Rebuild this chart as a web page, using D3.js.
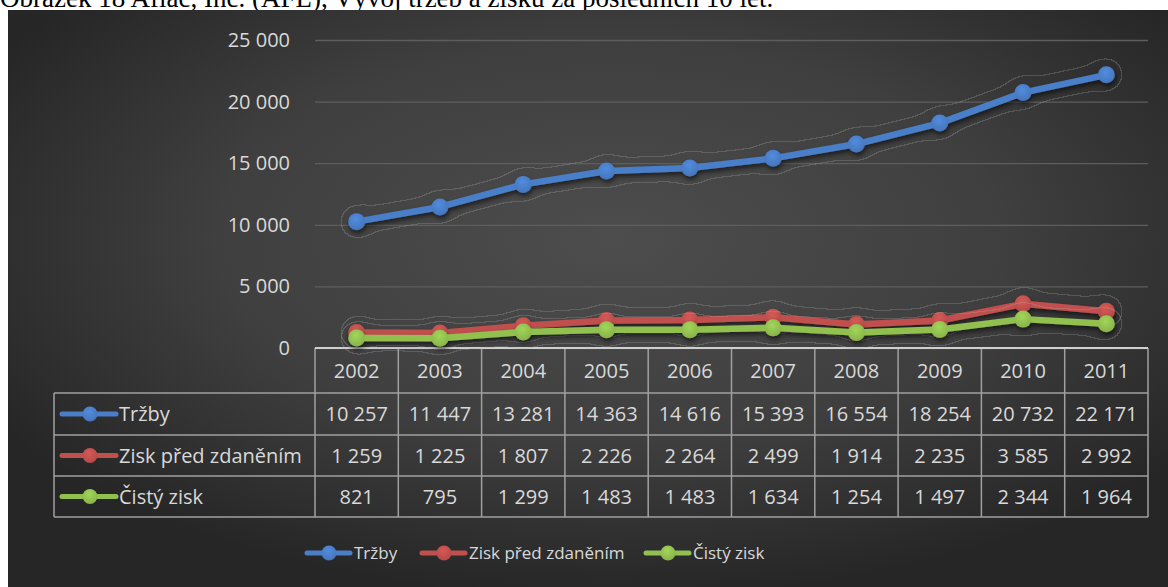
<!DOCTYPE html>
<html>
<head>
<meta charset="utf-8">
<script src="https://cdn.jsdelivr.net/npm/d3@7"></script>
<style>
  body { margin: 0; background: #fff; }
  svg { display: block; }
</style>
</head>
<body>
<div id="chart-area"></div>
<script>
// data
const years = ['2002', '2003', '2004', '2005', '2006', '2007', '2008', '2009', '2010', '2011'];
const trzby = [10257, 11447, 13281, 14363, 14616, 15393, 16554, 18254, 20732, 22171];
const ziskPredZdanenim = [1259, 1225, 1807, 2226, 2264, 2499, 1914, 2235, 3585, 2992];
const cistyZisk = [821, 795, 1299, 1483, 1483, 1634, 1254, 1497, 2344, 1964];
const yTicks = [0, 5000, 10000, 15000, 20000, 25000];
const seriesNames = ['Tržby', 'Zisk před zdaněním', 'Čistý zisk'];
const seriesColors = ['#4a7ec8', '#c0504d', '#92c050'];
const caption = 'Obrázek 18 Aflac, Inc. (AFL), Vývoj tržeb a zisku za posledních 10 let.';

const series = [trzby, ziskPredZdanenim, cistyZisk].map((values, i) => ({
    name: seriesNames[i],
    color: seriesColors[i],
    values: values
}));

const WIDTH = 1168, HEIGHT = 587;
const PLOT = { left: 315, right: 1148, top: 40, bottom: 348 };
const TABLE_LEFT = 54;
const ROWS = [348, 393, 435, 476, 517]; // table row edges
const FONT = '"Open Sans", "Noto Sans", sans-serif';
const TEXT = '#d9d9d9';

const locale = d3.formatLocale({ decimal: ',', thousands: ' ', grouping: [3], currency: ['', ''] });
const fmt = locale.format(',d');

const svg = d3.select('#chart-area').append('svg')
    .attr('width', WIDTH).attr('height', HEIGHT);

const defs = svg.append('defs');

const bg = defs.append('radialGradient').attr('id', 'bg')
    .attr('cx', '52%').attr('cy', '40%').attr('r', '62%');
bg.append('stop').attr('offset', '0%').attr('stop-color', '#4d4d4d');
bg.append('stop').attr('offset', '55%').attr('stop-color', '#3f3f3f');
bg.append('stop').attr('offset', '100%').attr('stop-color', '#262626');

// halo ring + drop shadow around each series
const halo = defs.append('filter').attr('id', 'halo')
    .attr('x', '-10%').attr('y', '-40%').attr('width', '120%').attr('height', '180%');
halo.append('feGaussianBlur').attr('in', 'SourceAlpha').attr('stdDeviation', 9).attr('result', 'blur');
halo.append('feComponentTransfer').attr('in', 'blur').attr('result', 'blob')
    .append('feFuncA').attr('type', 'discrete').attr('tableValues', '0 0 1 1 1 1 1 1 1 1 1 1 1 1 1 1 1 1 1 1');
halo.append('feMorphology').attr('in', 'blob').attr('operator', 'erode').attr('radius', 0.6).attr('result', 'inner');
halo.append('feComposite').attr('in', 'blob').attr('in2', 'inner').attr('operator', 'out').attr('result', 'ring');
halo.append('feFlood').attr('flood-color', '#b0b0b0').attr('flood-opacity', 0.25).attr('result', 'ringColor');
halo.append('feComposite').attr('in', 'ringColor').attr('in2', 'ring').attr('operator', 'in').attr('result', 'ringFinal');
halo.append('feGaussianBlur').attr('in', 'SourceAlpha').attr('stdDeviation', 2.5).attr('result', 'sblur');
halo.append('feOffset').attr('in', 'sblur').attr('dx', 1).attr('dy', 3).attr('result', 'soff');
halo.append('feComponentTransfer').attr('in', 'soff').attr('result', 'shadow')
    .append('feFuncA').attr('type', 'linear').attr('slope', 0.6);
const merge = halo.append('feMerge');
merge.append('feMergeNode').attr('in', 'ringFinal');
merge.append('feMergeNode').attr('in', 'shadow');
merge.append('feMergeNode').attr('in', 'SourceGraphic');

// marker gradients
series.forEach((s, i) => {
    const g = defs.append('radialGradient').attr('id', 'mk' + i)
        .attr('cx', '45%').attr('cy', '35%').attr('r', '65%');
    g.append('stop').attr('offset', '0%').attr('stop-color', d3.color(s.color).brighter(0.3));
    g.append('stop').attr('offset', '100%').attr('stop-color', d3.color(s.color).darker(0.2));
});

// caption (partly cut off at the top of the page, as in the source)
svg.append('text')
    .attr('x', 0).attr('y', 7)
    .attr('font-family', '"Liberation Serif", "Times New Roman", serif')
    .attr('font-size', '27px')
    .attr('fill', '#000')
    .text(caption);

svg.append('rect')
    .attr('x', 8).attr('y', 10).attr('width', WIDTH - 8).attr('height', HEIGHT - 10)
    .attr('fill', 'url(#bg)');

const xScale = d3.scaleBand().domain(years).range([PLOT.left, PLOT.right]);
const yScale = d3.scaleLinear().domain([0, 25000]).range([PLOT.bottom, PLOT.top]);
const xMid = d => xScale(d) + xScale.bandwidth() / 2;

// y axis with gridlines
const yAxis = svg.append('g')
    .attr('transform', `translate(${PLOT.left},0)`)
    .call(d3.axisLeft(yScale).tickValues(yTicks).tickFormat(fmt)
        .tickSize(-(PLOT.right - PLOT.left)).tickPadding(25));
yAxis.select('.domain').remove();
yAxis.selectAll('.tick line').attr('stroke', '#5e5e5e').attr('stroke-width', 1.3);
yAxis.selectAll('.tick text')
    .attr('fill', TEXT).attr('font-family', FONT).attr('font-size', '20px');

// data table
const table = svg.append('g');
const gridColor = '#a0a0a0';
ROWS.slice(1).forEach(y => {
    table.append('line')
        .attr('x1', TABLE_LEFT).attr('x2', PLOT.right).attr('y1', y).attr('y2', y)
        .attr('stroke', gridColor).attr('stroke-width', 1.5);
});
table.append('line')
    .attr('x1', TABLE_LEFT).attr('x2', TABLE_LEFT).attr('y1', ROWS[1]).attr('y2', ROWS[4])
    .attr('stroke', gridColor).attr('stroke-width', 1.5);
[...years.map(d => xScale(d)), PLOT.right].forEach(x => {
    table.append('line')
        .attr('x1', x).attr('x2', x).attr('y1', ROWS[0]).attr('y2', ROWS[4])
        .attr('stroke', gridColor).attr('stroke-width', 1.5);
});
table.append('line')
    .attr('x1', PLOT.left).attr('x2', PLOT.right).attr('y1', ROWS[0]).attr('y2', ROWS[0])
    .attr('stroke', '#cfcfcf').attr('stroke-width', 2);

const rowMid = i => (ROWS[i] + ROWS[i + 1]) / 2;

table.selectAll('text.year').data(years).enter().append('text')
    .attr('class', 'year')
    .attr('x', xMid).attr('y', rowMid(0)).attr('dy', '0.35em')
    .attr('text-anchor', 'middle')
    .attr('fill', TEXT).attr('font-family', FONT).attr('font-size', '20px')
    .text(d => d);

function legendKey(g, x, y, s, i) {
    g.append('line')
        .attr('x1', x).attr('x2', x + 54).attr('y1', y).attr('y2', y)
        .attr('stroke', s.color).attr('stroke-width', 5).attr('stroke-linecap', 'round');
    g.append('circle')
        .attr('cx', x + 28).attr('cy', y).attr('r', 7.5)
        .attr('fill', 'url(#mk' + i + ')');
}

series.forEach((s, i) => {
    const y = rowMid(i + 1);
    legendKey(table, 62, y, s, i);
    table.append('text')
        .attr('x', 119).attr('y', y).attr('dy', '0.35em')
        .attr('fill', TEXT).attr('font-family', FONT).attr('font-size', '20px')
        .text(s.name);
    table.selectAll(null).data(s.values).enter().append('text')
        .attr('x', (d, j) => xMid(years[j])).attr('y', y).attr('dy', '0.35em')
        .attr('text-anchor', 'middle')
        .attr('fill', TEXT).attr('font-family', FONT).attr('font-size', '20px')
        .text(d => fmt(d));
});

// lines
const line = d3.line().x((d, j) => xMid(years[j])).y(d => yScale(d));
series.forEach((s, i) => {
    const g = svg.append('g').attr('filter', 'url(#halo)');
    g.append('path')
        .datum(s.values)
        .attr('d', line)
        .attr('fill', 'none')
        .attr('stroke', s.color)
        .attr('stroke-width', 6.5)
        .attr('stroke-linejoin', 'round');
    g.selectAll('circle').data(s.values).enter().append('circle')
        .attr('cx', (d, j) => xMid(years[j]))
        .attr('cy', d => yScale(d))
        .attr('r', 8.5)
        .attr('fill', 'url(#mk' + i + ')');
});

// bottom legend
const legend = svg.append('g');
const legendX = [307, 422, 646];
series.forEach((s, i) => {
    const g = legend.append('g');
    g.append('line')
        .attr('x1', legendX[i]).attr('x2', legendX[i] + 43).attr('y1', 553).attr('y2', 553)
        .attr('stroke', s.color).attr('stroke-width', 5).attr('stroke-linecap', 'round');
    g.append('circle')
        .attr('cx', legendX[i] + 22).attr('cy', 553).attr('r', 7.5)
        .attr('fill', 'url(#mk' + i + ')');
    g.append('text')
        .attr('x', legendX[i] + 47).attr('y', 553).attr('dy', '0.35em')
        .attr('fill', TEXT).attr('font-family', FONT).attr('font-size', '17px')
        .text(s.name);
});
</script>
</body>
</html>
